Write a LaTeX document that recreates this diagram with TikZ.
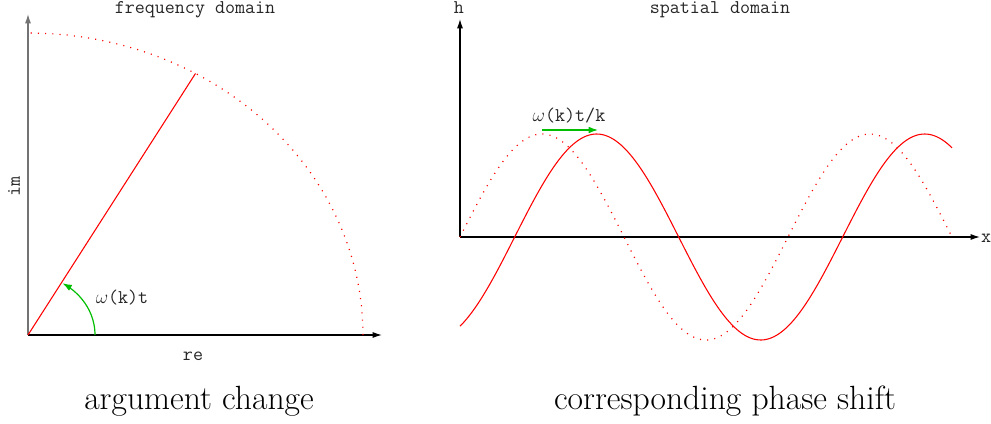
\documentclass[tikz,border=0pt]{standalone}
\usepackage{fontspec}
\usetikzlibrary{arrows.meta}
\definecolor{grn}{RGB}{0,190,0}
\newcommand{\omg}{$\omega$}
\tikzset{
  axis/.style={line width=0.9pt, -{Latex[length=7pt,width=4.5pt]}},
  monolbl/.style={font=\ttfamily\fontsize{14.6}{17}\selectfont, text=black!85, inner sep=0pt},
  caption/.style={font=\fontsize{25.2}{29}\selectfont, inner sep=0pt},
  curve/.style={red, line width=0.8pt},
  dotcurve/.style={red, line width=0.9pt, dash pattern=on 0.8pt off 4.6pt},
  greenarrow/.style={grn, line width=0.9pt, -{Latex[length=7pt,width=5pt]}},
}
\begin{document}
\begin{tikzpicture}[x=0.75pt,y=-0.75pt]
\useasboundingbox (0,0) rectangle (991,424);
% ---------- left: frequency domain ----------
\coordinate (O) at (28,335);
\coordinate (Ytop) at (28,14);
\coordinate (Xend) at (382,335);
\coordinate (P) at ({28+335*cos(60)},{335-302*sin(60)});
\draw[axis, draw=black!55] (O) -- (Ytop);
\draw[axis] (O) -- (Xend);
\draw[dotcurve] plot[domain=0:90, samples=80] ({28+335*cos(\x)},{335-302*sin(\x)});
\draw[curve] (O) -- (P);
\draw[greenarrow] plot[domain=0:59, samples=30] ({28+67*cos(\x)},{335-60.4*sin(\x)});
\node[monolbl, anchor=base] (ftitle) at (195,14) {frequency domain};
\node[monolbl, rotate=90] (im) at (14,186) {im};
\node[monolbl] (re) at (193,356) {re};
\node[monolbl] (wt) at (122,298) {\omg(k)t};
\node[caption] (cap1) at (199,401) {argument change};
% ---------- right: spatial domain ----------
\coordinate (O2) at (460,237);
\coordinate (Ytop2) at (460,19);
\coordinate (Xend2) at (980,237);
\draw[axis] (O2) -- (Ytop2);
\draw[axis] (O2) -- (Xend2);
\draw[dotcurve] plot[domain=0:540, samples=200] ({460+0.911111*\x},{237-103*sin(\x)});
\draw[curve] plot[domain=0:540, samples=200] ({460+0.911111*\x},{237-103*sin(\x-60)});
\coordinate (A1) at (542,130);
\coordinate (A2) at (598,130);
\draw[greenarrow] (A1) -- (A2);
\node[monolbl] (wtk) at (569,116) {\omg(k)t/k};
\node[monolbl, anchor=base] (h) at (459,14) {h};
\node[monolbl] (xl) at (986,238) {x};
\node[monolbl, anchor=base] (stitle) at (720,14) {spatial domain};
\node[caption] (cap2) at (725,401) {corresponding phase shift};
\end{tikzpicture}
\end{document}
